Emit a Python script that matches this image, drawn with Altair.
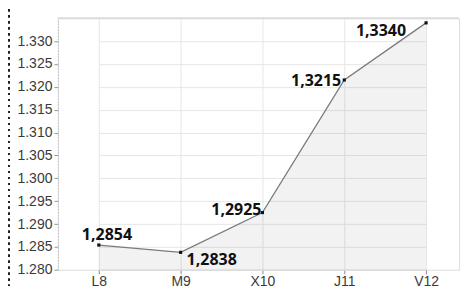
import altair as alt
import pandas as pd

categories = ["L8", "M9", "X10", "J11", "V12"]
values = [1.2854, 1.2838, 1.2925, 1.3215, 1.3340]
y_ticks = [1.280, 1.285, 1.290, 1.295, 1.300, 1.305, 1.310, 1.315, 1.320, 1.325, 1.330]

# label placement styling (per point)
lab_align = ["left", "left", "right", "right", "right"]
lab_dx = [-17, 6, -1, -3, -20]
lab_dy = [-5, 13, 2, 6, 13]

df = pd.DataFrame({
    "cat": categories,
    "val": values,
    "label": [f"{v:.4f}".replace(".", ",") for v in values],
})

W, H = 402, 252
xscale = alt.Scale(domain=categories, range=[41, 369], padding=0)
yscale = alt.Scale(domain=[1.280, 1.335], nice=False, zero=False)

x = alt.X("cat:N", scale=xscale, sort=categories,
          axis=alt.Axis(title=None, labelAngle=0, grid=True, gridColor="#e6e6e6",
                        domainColor="#d8d8d8", tickColor="#888", tickSize=4,
                        labelPadding=1, labelFontSize=14, labelFont="Liberation Sans",
                        labelColor="#3a3a3a"))
y = alt.Y("val:Q", scale=yscale,
          axis=alt.Axis(title=None, values=y_ticks, format=".3f", grid=True,
                        gridColor="#e6e6e6", domainColor="#b0b0b0", domainDash=[1, 2],
                        tickColor="#999", tickSize=4, labelPadding=2, labelFontSize=14,
                        labelFont="Liberation Sans", labelColor="#3a3a3a"))

base = alt.Chart(df)

area = base.mark_area(color="#000000", opacity=0.05).encode(x=x, y=y, y2=alt.datum(1.280))
line = base.mark_line(color="#7a7a7a", strokeWidth=1.3).encode(x=x, y=y)
pts = base.mark_square(color="#111111", size=10, opacity=1).encode(x=x, y=y)

texts = []
for i, c in enumerate(categories):
    texts.append(
        base.transform_filter(alt.datum.cat == c).mark_text(
            align=lab_align[i], baseline="alphabetic", dx=lab_dx[i], dy=lab_dy[i],
            font="Noto Sans", fontSize=16, fontWeight="bold", color="#111111"
        ).encode(x=x, y=y, text="label:N")
    )

top_rule = alt.Chart(df).mark_rule(color="#dcdcdc", strokeWidth=1).encode(
    x=alt.value(0), x2=alt.value(W), y=alt.value(0))
outer = alt.Chart(df).mark_rule(color="#222", strokeWidth=2, strokeDash=[2, 4]).encode(
    x=alt.value(-49), y=alt.value(-9), y2=alt.value(268))

chart = alt.layer(area, line, pts, *texts, top_rule, outer).properties(
    width=W, height=H,
    autosize=alt.AutoSizeParams(type="pad"),
    padding={"left": 0, "top": 0, "right": 0, "bottom": 0},
).configure_view(stroke=None).configure(background="white")

chart.save("out.html", embed_options={"renderer": "svg", "actions": False})
